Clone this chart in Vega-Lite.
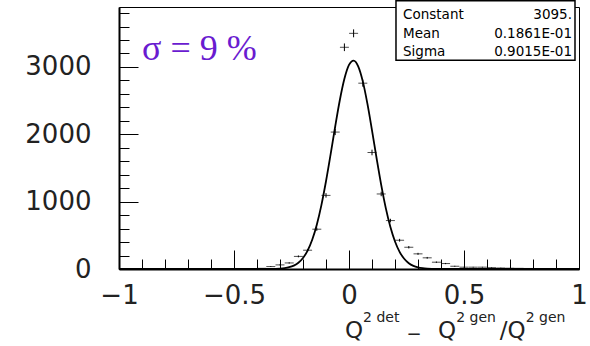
{
  "$schema": "https://vega.github.io/schema/vega-lite/v6.json",
  "width": 460,
  "height": 262,
  "autosize": {"type": "none"},
  "padding": {"left": 119, "top": 7, "right": 11, "bottom": 77},
  "background": "white",
  "config": {"view": {"stroke": "#000", "strokeWidth": 1}, "font": "DejaVu Sans"},
  "resolve": {"axis": {"x": "independent", "y": "independent"}},
  "datasets": {
    "hist": [
      {"x": -0.98, "n": 0, "e": 0}, {"x": -0.94, "n": 0, "e": 0}, {"x": -0.90, "n": 0, "e": 0},
      {"x": -0.86, "n": 0, "e": 0}, {"x": -0.82, "n": 0, "e": 0}, {"x": -0.78, "n": 0, "e": 0},
      {"x": -0.74, "n": 0, "e": 0}, {"x": -0.70, "n": 0, "e": 0}, {"x": -0.66, "n": 0, "e": 0},
      {"x": -0.62, "n": 0, "e": 0}, {"x": -0.58, "n": 1, "e": 1}, {"x": -0.54, "n": 1, "e": 1},
      {"x": -0.50, "n": 2, "e": 1.4}, {"x": -0.46, "n": 3, "e": 1.7}, {"x": -0.42, "n": 5, "e": 2.2},
      {"x": -0.38, "n": 10, "e": 3.2}, {"x": -0.34, "n": 36, "e": 6}, {"x": -0.30, "n": 61, "e": 7.8},
      {"x": -0.26, "n": 90, "e": 9.5}, {"x": -0.22, "n": 187, "e": 13.7}, {"x": -0.18, "n": 279, "e": 16.7},
      {"x": -0.14, "n": 591, "e": 24.3}, {"x": -0.10, "n": 1093, "e": 33}, {"x": -0.06, "n": 2033, "e": 45},
      {"x": -0.02, "n": 3292, "e": 57}, {"x": 0.02, "n": 3499, "e": 59}, {"x": 0.06, "n": 2759, "e": 52.5},
      {"x": 0.10, "n": 1730, "e": 41.6}, {"x": 0.14, "n": 1114, "e": 33.4}, {"x": 0.18, "n": 719, "e": 26.8},
      {"x": 0.22, "n": 427, "e": 20.7}, {"x": 0.26, "n": 323, "e": 18}, {"x": 0.30, "n": 225, "e": 15},
      {"x": 0.34, "n": 166, "e": 12.9}, {"x": 0.38, "n": 101, "e": 10}, {"x": 0.42, "n": 81, "e": 9},
      {"x": 0.46, "n": 41, "e": 6.4}, {"x": 0.50, "n": 27, "e": 5.2}, {"x": 0.54, "n": 27, "e": 5.2},
      {"x": 0.58, "n": 27, "e": 5.2}, {"x": 0.62, "n": 20, "e": 4.5}, {"x": 0.66, "n": 15, "e": 3.9},
      {"x": 0.70, "n": 12, "e": 3.5}, {"x": 0.74, "n": 10, "e": 3.2}, {"x": 0.78, "n": 8, "e": 2.8},
      {"x": 0.82, "n": 6, "e": 2.4}, {"x": 0.86, "n": 5, "e": 2.2}, {"x": 0.90, "n": 4, "e": 2},
      {"x": 0.94, "n": 3, "e": 1.7}, {"x": 0.98, "n": 3, "e": 1.7}
    ],
    "fit": [
      {"x": -1.0, "y": 0}, {"x": -0.44, "y": 0}, {"x": -0.40, "y": 0.06}, {"x": -0.36, "y": 0.46},
      {"x": -0.32, "y": 2.7}, {"x": -0.30, "y": 6.0}, {"x": -0.28, "y": 12.8}, {"x": -0.26, "y": 26.1},
      {"x": -0.24, "y": 50.5}, {"x": -0.22, "y": 93.2}, {"x": -0.20, "y": 163.6}, {"x": -0.18, "y": 273.4},
      {"x": -0.16, "y": 434.8}, {"x": -0.14, "y": 658.3}, {"x": -0.12, "y": 949.0}, {"x": -0.10, "y": 1302.5},
      {"x": -0.08, "y": 1701.7}, {"x": -0.06, "y": 2116.0}, {"x": -0.04, "y": 2505.4}, {"x": -0.02, "y": 2823.8},
      {"x": 0.00, "y": 3029.8}, {"x": 0.02, "y": 3094.6}, {"x": 0.04, "y": 3009.1}, {"x": 0.06, "y": 2785.4},
      {"x": 0.08, "y": 2454.5}, {"x": 0.10, "y": 2059.0}, {"x": 0.12, "y": 1644.3}, {"x": 0.14, "y": 1250.1},
      {"x": 0.16, "y": 904.6}, {"x": 0.18, "y": 623.3}, {"x": 0.20, "y": 408.8}, {"x": 0.22, "y": 255.3},
      {"x": 0.24, "y": 151.8}, {"x": 0.26, "y": 85.9}, {"x": 0.28, "y": 46.3}, {"x": 0.30, "y": 23.7},
      {"x": 0.32, "y": 11.6}, {"x": 0.34, "y": 5.4}, {"x": 0.36, "y": 2.4}, {"x": 0.40, "y": 0.2},
      {"x": 0.44, "y": 0}, {"x": 1.0, "y": 0}
    ]
  },
  "layer": [
    {
      "data": {"name": "fit"},
      "mark": {"type": "line", "color": "#000", "strokeWidth": 1.8, "interpolate": "monotone"},
      "encoding": {
        "x": {
          "field": "x", "type": "quantitative",
          "scale": {"domain": [-1, 1], "nice": false, "zero": false},
          "axis": {
            "orient": "bottom",
            "values": [-1, -0.5, 0, 0.5, 1],
            "format": ".1~f",
            "tickSize": -19, "tickColor": "#000", "tickWidth": 1,
            "domainColor": "#000", "domainWidth": 2,
            "grid": false,
            "labelFont": "DejaVu Sans", "labelFontSize": 26, "labelColor": "#222",
            "labelPadding": 32, "labelFlush": false, "labelOverlap": false,
            "title": null
          }
        },
        "y": {
          "field": "y", "type": "quantitative",
          "scale": {"domain": [0, 3890], "nice": false},
          "axis": {
            "orient": "left",
            "values": [0, 1000, 2000, 3000],
            "format": "d",
            "tickSize": -19, "tickColor": "#000", "tickWidth": 1,
            "domainColor": "#000", "domainWidth": 2,
            "grid": false,
            "labelFont": "DejaVu Sans", "labelFontSize": 26, "labelColor": "#222",
            "labelPadding": 47, "labelFlush": false, "labelOverlap": false,
            "title": null
          }
        }
      }
    },
    {
      "data": {"name": "hist"},
      "mark": {"type": "tick", "orient": "horizontal", "size": 9, "thickness": 1, "color": "#000"},
      "encoding": {
        "x": {
          "field": "x", "type": "quantitative",
          "axis": {
            "orient": "bottom",
            "values": [-0.9, -0.8, -0.7, -0.6, -0.4, -0.3, -0.2, -0.1, 0.1, 0.2, 0.3, 0.4, 0.6, 0.7, 0.8, 0.9],
            "tickSize": -10, "tickColor": "#000", "tickWidth": 1,
            "domain": false, "grid": false, "labels": false, "title": null
          }
        },
        "y": {
          "field": "n", "type": "quantitative",
          "axis": {
            "orient": "left",
            "values": [200, 400, 600, 800, 1200, 1400, 1600, 1800, 2200, 2400, 2600, 2800, 3200, 3400, 3600, 3800],
            "tickSize": -10, "tickColor": "#000", "tickWidth": 1,
            "domain": false, "grid": false, "labels": false, "title": null
          }
        }
      }
    },
    {
      "data": {"name": "hist"},
      "mark": {"type": "errorbar", "color": "#000"},
      "encoding": {
        "x": {"field": "x", "type": "quantitative", "axis": null},
        "y": {"field": "n", "type": "quantitative", "axis": null},
        "yError": {"field": "e"}
      }
    },
    {
      "data": {"values": [{}]},
      "mark": {"type": "text", "font": "Liberation Serif", "fontSize": 36, "color": "#6a1bd0", "align": "left", "baseline": "alphabetic"},
      "encoding": {"x": {"datum": -0.9, "axis": null}, "y": {"datum": 3108, "axis": null}, "text": {"value": "σ = 9 %"}}
    },
    {
      "data": {"values": [{}]},
      "mark": {"type": "rect", "fill": "white", "stroke": "#000", "strokeWidth": 1.5},
      "encoding": {"x": {"datum": 0.2043, "axis": null}, "x2": {"datum": 0.9826}, "y": {"datum": 3984, "axis": null}, "y2": {"datum": 3098}}
    },
    {
      "data": {"values": [{"k": "Constant", "v": "3095."}]},
      "layer": [
        {"mark": {"type": "text", "font": "DejaVu Sans", "fontSize": 13.5, "align": "left", "baseline": "middle", "color": "#000"},
         "encoding": {"x": {"datum": 0.235, "axis": null}, "y": {"datum": 3773, "axis": null}, "text": {"field": "k"}}},
        {"mark": {"type": "text", "font": "DejaVu Sans", "fontSize": 13.5, "align": "right", "baseline": "middle", "color": "#000"},
         "encoding": {"x": {"datum": 0.9696, "axis": null}, "y": {"datum": 3773, "axis": null}, "text": {"field": "v"}}}
      ]
    },
    {
      "data": {"values": [{"k": "Mean", "v": "0.1861E-01"}]},
      "layer": [
        {"mark": {"type": "text", "font": "DejaVu Sans", "fontSize": 13.5, "align": "left", "baseline": "middle", "color": "#000"},
         "encoding": {"x": {"datum": 0.235, "axis": null}, "y": {"datum": 3487, "axis": null}, "text": {"field": "k"}}},
        {"mark": {"type": "text", "font": "DejaVu Sans", "fontSize": 13.5, "align": "right", "baseline": "middle", "color": "#000"},
         "encoding": {"x": {"datum": 0.9696, "axis": null}, "y": {"datum": 3487, "axis": null}, "text": {"field": "v"}}}
      ]
    },
    {
      "data": {"values": [{"k": "Sigma", "v": "0.9015E-01"}]},
      "layer": [
        {"mark": {"type": "text", "font": "DejaVu Sans", "fontSize": 13.5, "align": "left", "baseline": "middle", "color": "#000"},
         "encoding": {"x": {"datum": 0.235, "axis": null}, "y": {"datum": 3220, "axis": null}, "text": {"field": "k"}}},
        {"mark": {"type": "text", "font": "DejaVu Sans", "fontSize": 13.5, "align": "right", "baseline": "middle", "color": "#000"},
         "encoding": {"x": {"datum": 0.9696, "axis": null}, "y": {"datum": 3220, "axis": null}, "text": {"field": "v"}}}
      ]
    },
    {
      "data": {"values": [{"q": "Q", "m": "−", "s": "/Q", "d": "2 det", "g": "2 gen"}]},
      "layer": [
        {"mark": {"type": "text", "font": "DejaVu Sans", "fontSize": 23, "align": "left", "baseline": "alphabetic", "color": "#222"},
         "encoding": {"x": {"datum": -0.0174, "axis": null}, "y": {"datum": -1024, "axis": null}, "text": {"field": "q"}}},
        {"mark": {"type": "text", "font": "DejaVu Sans", "fontSize": 14, "align": "left", "baseline": "alphabetic", "color": "#222"},
         "encoding": {"x": {"datum": 0.061, "axis": null}, "y": {"datum": -790, "axis": null}, "text": {"field": "d"}}},
        {"mark": {"type": "text", "font": "DejaVu Sans", "fontSize": 18, "align": "left", "baseline": "alphabetic", "color": "#222"},
         "encoding": {"x": {"datum": 0.25, "axis": null}, "y": {"datum": -1050, "axis": null}, "text": {"field": "m"}}},
        {"mark": {"type": "text", "font": "DejaVu Sans", "fontSize": 23, "align": "left", "baseline": "alphabetic", "color": "#222"},
         "encoding": {"x": {"datum": 0.387, "axis": null}, "y": {"datum": -1024, "axis": null}, "text": {"field": "q"}}},
        {"mark": {"type": "text", "font": "DejaVu Sans", "fontSize": 14, "align": "left", "baseline": "alphabetic", "color": "#222"},
         "encoding": {"x": {"datum": 0.466, "axis": null}, "y": {"datum": -790, "axis": null}, "text": {"field": "g"}}},
        {"mark": {"type": "text", "font": "DejaVu Sans", "fontSize": 23, "align": "left", "baseline": "alphabetic", "color": "#222"},
         "encoding": {"x": {"datum": 0.655, "axis": null}, "y": {"datum": -1024, "axis": null}, "text": {"field": "s"}}},
        {"mark": {"type": "text", "font": "DejaVu Sans", "fontSize": 14, "align": "left", "baseline": "alphabetic", "color": "#222"},
         "encoding": {"x": {"datum": 0.768, "axis": null}, "y": {"datum": -790, "axis": null}, "text": {"field": "g"}}}
      ]
    }
  ]
}
